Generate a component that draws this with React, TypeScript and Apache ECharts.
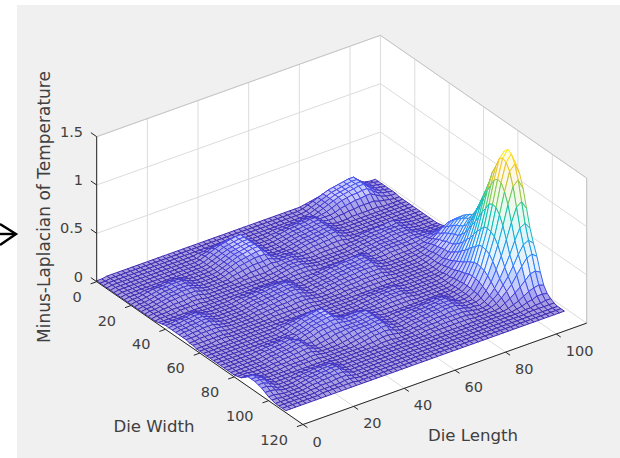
import React, { useEffect, useRef } from "react";
import * as echarts from "echarts";

const lengthTicks = [0, 20, 40, 60, 80, 100];
const widthTicks = [0, 20, 40, 60, 80, 100, 120];
const heightTicks = [0, 0.5, 1, 1.5];
const heightTickLabels = ["0", "0.5", "1", "1.5"];
const lengthMax = 112;
const widthMax = 120;
const heightMax = 1.5;
const meshStep = 2;
const xLabel = "Die Length";
const yLabel = "Die Width";
const zLabel = "Minus-Laplacian of Temperature";

// Surface heights (hundredths); one list per Die Width row, one value per 2 units of Die Length.
const w000 = [1,1,2,2,2,2,2,2,2,2,2,2,2,2,2,2,2,2,2,2,2,2,2,2,2,2,2,2,2,2,2,2,2,2,2,2,2,2,2,2,2,3,4,5,6,7,8,8,9,9,9,7,5,4,3,3];
const w002 = [1,1,2,2,2,2,2,2,2,2,2,2,2,2,2,2,2,2,2,2,2,2,2,2,2,2,2,2,2,2,2,2,2,2,2,2,2,2,2,2,3,5,7,9,11,13,14,15,16,17,17,12,8,5,4,3];
const w004 = [1,2,2,2,2,2,2,2,2,2,2,2,2,2,2,2,2,2,2,2,2,2,2,2,2,2,2,2,2,2,2,2,2,2,2,2,2,2,2,2,3,5,7,9,11,13,14,15,16,17,17,12,8,5,4,3];
const w006 = [1,2,2,2,2,2,2,2,2,2,2,2,2,2,2,2,2,2,3,3,4,4,5,5,5,5,3,2,2,2,2,2,2,2,2,2,2,2,2,2,3,5,7,9,11,13,14,15,16,17,17,12,8,5,4,3];
const w008 = [1,2,2,2,2,2,2,2,2,2,2,2,2,2,2,2,2,2,4,5,7,8,9,10,10,10,7,3,2,2,2,2,3,3,3,3,3,3,4,4,3,5,7,9,11,13,14,15,16,17,17,12,8,5,4,3];
const w010 = [1,2,2,2,2,2,2,2,2,2,2,2,2,2,2,2,2,3,5,7,9,11,12,13,14,14,9,4,2,2,2,3,3,4,4,5,5,6,6,6,4,5,6,8,10,12,13,14,14,15,15,11,7,5,4,3];
const w012 = [1,2,2,2,2,2,2,2,2,2,2,2,2,2,2,2,2,3,5,7,9,11,12,13,14,14,9,4,2,2,2,3,4,5,6,6,7,7,8,8,5,5,5,6,8,9,10,11,11,12,12,9,6,4,3,3];
const w014 = [1,2,2,2,2,2,2,2,2,2,2,2,2,2,2,2,2,3,5,7,9,11,12,13,14,14,9,4,2,2,2,3,4,5,6,6,7,7,8,8,5,4,4,5,5,6,6,7,7,7,7,5,4,3,2,2];
const w016 = [1,2,2,2,3,3,3,3,4,4,4,3,2,2,2,2,2,3,5,7,9,11,12,13,14,14,9,4,2,2,2,3,4,5,6,6,7,7,8,8,5,3,2,2,2,3,3,3,3,3,3,2,2,2,2,2];
const w018 = [1,2,2,3,4,5,5,5,6,6,6,4,3,2,2,2,2,3,5,7,9,11,12,13,14,14,9,4,2,2,2,3,4,5,6,6,7,7,8,8,5,3,2,2,2,2,2,2,2,2,2,2,2,2,2,2];
const w020 = [1,2,2,3,4,5,6,6,7,7,7,5,3,2,2,2,2,3,5,7,9,11,12,13,14,14,9,4,2,2,2,3,4,5,6,6,7,7,8,8,5,3,2,2,2,2,2,2,2,2,2,2,2,2,2,2];
const w022 = [1,2,2,3,4,5,6,6,7,7,7,5,3,2,2,2,2,3,5,7,9,10,11,12,13,13,9,4,3,3,3,3,4,5,6,6,7,7,8,8,5,3,2,2,2,2,2,2,2,2,2,2,2,2,2,2];
const w024 = [1,2,2,3,4,5,6,6,7,7,7,5,3,2,2,2,2,3,5,6,8,9,10,11,11,11,8,5,4,4,3,3,4,5,6,6,7,7,8,8,5,3,2,2,2,2,2,2,2,2,2,2,2,2,2,2];
const w026 = [1,2,2,3,4,5,6,6,7,7,7,5,3,2,2,2,2,2,4,5,6,7,8,8,8,9,7,5,5,5,4,3,3,4,5,5,6,6,7,7,4,3,2,2,2,2,2,2,2,2,2,2,2,2,2,2];
const w028 = [1,2,2,3,4,5,5,6,6,6,6,4,3,2,2,2,2,2,3,3,4,5,5,6,6,7,6,6,6,6,4,3,3,3,4,4,4,5,5,5,3,3,3,4,4,5,5,5,6,6,4,3,2,2,2,2];
const w030 = [1,2,2,3,3,4,4,4,5,5,5,3,2,2,2,2,2,2,2,3,3,3,3,3,4,5,5,6,6,6,4,3,2,2,3,3,3,3,3,3,3,3,4,4,5,5,5,5,5,6,4,3,2,2,2,2];
const w032 = [1,2,2,2,3,3,3,3,4,4,3,2,2,2,2,2,2,2,2,2,2,2,2,3,3,4,5,6,6,6,4,3,2,2,2,2,2,2,2,3,3,4,4,5,5,5,6,6,6,6,4,3,2,2,2,2];
const w034 = [1,2,2,2,2,3,3,3,3,3,2,2,2,2,2,2,2,2,2,2,2,2,2,2,3,4,5,6,6,6,4,3,2,2,2,2,2,2,2,3,3,4,4,5,5,5,6,6,6,6,4,3,2,2,2,2];
const w036 = [2,2,2,2,2,2,2,2,2,2,2,2,2,2,2,2,2,2,2,2,2,2,2,2,3,3,4,5,5,5,4,3,2,2,2,2,2,2,2,3,3,4,4,5,5,5,6,6,6,6,4,3,2,2,2,2];
const w038 = [3,3,3,3,3,4,4,3,2,2,2,2,2,2,3,3,3,3,3,4,4,4,4,3,3,3,4,4,4,4,3,2,2,2,2,2,2,2,2,3,3,4,4,5,5,5,5,6,6,6,5,4,3,3,3,3];
const w040 = [4,4,5,5,5,6,6,4,3,2,2,2,2,2,3,4,4,5,5,5,6,6,6,6,5,3,3,3,3,3,3,4,4,5,5,5,6,6,6,5,3,4,4,5,5,5,5,5,6,6,5,5,4,4,4,4];
const w042 = [4,5,5,6,6,7,7,5,3,2,2,2,2,2,3,4,5,5,6,6,7,7,8,8,6,3,2,3,3,4,4,5,6,6,7,7,7,8,8,5,3,3,4,5,5,5,5,5,6,6,6,6,6,6,6,5];
const w044 = [4,5,5,6,6,7,7,5,3,2,2,2,2,2,3,4,5,5,6,6,7,7,8,8,6,3,2,3,3,4,4,5,6,6,7,7,7,8,8,5,3,3,3,4,4,4,5,5,5,6,7,8,9,10,10,9];
const w046 = [4,5,5,6,6,7,7,5,3,2,2,2,2,2,3,4,5,5,6,6,7,7,8,8,6,3,2,3,3,4,4,5,6,6,7,7,7,8,8,5,3,2,2,3,3,3,3,4,5,6,8,10,13,15,16,15];
const w048 = [4,5,5,6,6,7,7,5,3,2,2,2,2,2,3,4,5,5,6,6,7,7,8,8,6,3,2,3,3,4,4,5,6,6,7,7,7,8,8,5,3,2,2,2,2,3,3,4,5,7,10,14,18,21,22,20];
const w050 = [4,4,5,5,6,6,6,4,3,2,2,2,2,2,3,4,4,5,5,6,6,7,7,7,5,3,2,3,3,4,4,5,5,6,6,7,7,7,7,4,3,2,2,2,2,3,3,4,6,9,12,16,21,25,26,24];
const w052 = [4,4,4,5,5,5,5,4,3,2,2,2,2,2,3,3,4,4,5,5,5,6,6,6,4,3,2,2,3,3,4,4,5,5,5,6,6,6,6,4,2,2,2,2,2,2,3,4,6,10,14,19,24,29,30,27];
const w054 = [3,3,4,4,4,4,4,3,2,2,2,2,2,2,2,3,3,4,4,4,4,5,5,5,4,3,2,2,2,3,3,4,4,4,5,5,5,5,5,3,2,2,2,2,2,2,3,5,7,11,15,21,27,32,34,31];
const w056 = [3,3,3,3,3,3,3,2,2,2,2,2,2,2,2,2,3,3,3,3,3,3,4,4,3,2,2,2,2,2,3,3,3,3,4,4,4,4,4,3,2,2,2,2,2,2,3,5,8,12,17,23,30,35,37,33];
const w058 = [2,2,2,2,3,3,3,2,2,2,2,2,2,2,2,2,2,2,2,3,3,3,3,3,2,2,2,2,2,2,2,3,3,3,3,3,3,3,3,2,2,2,2,2,2,2,3,5,8,13,18,25,32,38,40,36];
const w060 = [2,2,2,2,2,2,2,2,2,2,2,2,2,2,2,2,2,2,2,2,2,2,2,2,2,2,2,2,2,2,2,2,2,2,2,2,2,2,2,2,2,2,2,2,2,2,3,5,8,13,19,26,34,40,42,38];
const w062 = [2,2,2,2,2,2,2,2,2,2,2,2,2,2,2,3,3,4,4,4,5,5,5,3,2,2,2,2,2,2,2,3,3,3,3,3,3,3,2,2,2,2,2,2,2,2,3,6,10,15,22,30,38,46,48,43];
const w064 = [2,2,2,2,2,2,2,2,2,2,2,2,2,2,3,4,5,6,7,8,9,9,9,5,2,2,2,2,2,2,3,3,4,4,4,4,5,5,3,2,2,2,2,2,2,2,3,7,11,18,25,34,44,52,55,50];
const w066 = [2,2,2,2,2,2,2,2,2,2,2,2,2,2,3,4,6,7,9,10,11,12,12,7,3,2,2,2,2,2,3,3,4,4,5,5,5,5,3,2,2,2,2,2,2,3,4,8,13,20,29,40,51,61,64,58];
const w068 = [2,2,2,2,2,2,2,2,2,2,2,2,2,2,3,4,6,7,9,10,11,12,12,7,3,2,2,2,2,2,3,3,4,4,5,5,5,5,3,2,2,2,2,2,2,3,5,9,15,24,34,47,60,71,75,68];
const w070 = [2,2,2,2,2,2,2,2,3,3,3,3,3,4,4,4,6,7,9,10,11,12,12,8,5,4,4,4,3,3,3,3,4,4,5,5,5,5,3,2,2,2,2,2,2,3,5,10,17,27,38,53,68,81,85,77];
const w072 = [2,2,2,2,2,2,2,3,3,4,4,5,5,6,4,5,6,7,9,10,11,12,12,9,7,7,7,7,6,4,3,3,3,4,4,4,4,4,3,2,2,2,2,2,2,3,6,12,19,31,44,60,78,92,97,87];
const w074 = [2,2,2,2,2,2,2,3,4,4,5,5,6,7,5,4,6,7,9,10,10,11,11,9,8,8,8,9,9,5,3,3,3,3,3,3,3,3,2,2,2,2,2,2,2,3,7,13,22,35,50,68,88,105,110,99];
const w076 = [2,2,2,2,2,2,2,3,4,4,5,5,6,7,7,4,5,6,8,9,9,10,10,9,8,8,8,9,9,5,3,2,2,2,2,2,2,2,2,2,2,2,2,2,2,4,7,14,24,38,54,74,96,114,120,108];
const w078 = [2,2,2,2,2,2,2,3,4,4,5,5,6,7,7,4,3,5,6,7,8,8,8,8,8,8,8,9,9,5,3,2,3,3,3,3,3,3,3,4,4,4,3,2,3,4,8,16,26,42,59,81,104,124,130,117];
const w080 = [2,2,2,2,2,2,2,3,4,4,5,5,6,7,7,4,2,3,4,5,7,7,8,8,8,8,8,9,9,5,3,2,3,3,4,4,4,5,5,5,6,6,4,2,3,4,8,16,27,43,60,83,107,127,134,121];
const w082 = [3,3,3,2,2,2,2,3,3,4,4,5,5,6,6,4,2,2,3,3,5,6,7,8,8,8,8,9,9,5,3,2,3,3,4,5,5,5,6,6,7,7,4,2,3,4,8,16,26,42,59,82,106,125,132,119];
const w084 = [4,4,3,2,2,2,2,3,3,3,4,4,4,5,5,3,2,2,2,2,3,4,5,6,7,8,8,9,9,5,3,2,3,4,4,5,5,6,6,7,7,7,5,3,3,4,7,15,25,40,56,77,99,118,124,112];
const w086 = [7,7,5,3,2,2,2,2,3,3,3,3,3,4,4,3,2,2,2,2,2,3,4,5,6,7,7,8,8,4,3,2,3,4,4,5,5,6,6,7,7,7,5,3,3,3,7,13,22,35,50,68,88,105,110,99];
const w088 = [10,10,7,4,2,2,2,2,2,3,3,3,3,3,3,2,2,2,2,2,2,2,3,4,5,6,6,7,6,4,2,2,3,4,4,5,5,6,6,7,7,7,5,3,3,3,5,11,18,29,41,56,72,86,90,81];
const w090 = [10,10,8,4,2,2,2,2,2,2,2,2,2,2,2,2,2,2,2,2,2,2,2,3,3,4,5,5,4,3,2,2,3,3,4,4,5,5,5,6,6,6,5,3,3,2,4,8,14,22,32,43,56,67,70,63];
const w092 = [10,10,8,4,2,2,2,2,3,3,3,3,3,3,3,3,2,2,2,2,2,2,2,2,2,3,3,3,2,2,2,2,3,3,4,4,4,5,5,5,5,5,4,3,2,2,3,7,11,18,25,34,44,52,55,50];
const w094 = [9,9,7,4,2,2,2,3,3,4,4,5,5,5,5,3,2,2,2,2,2,2,2,2,2,2,2,2,2,2,2,2,2,3,3,3,4,4,4,4,4,4,3,2,2,2,3,5,9,14,19,27,34,41,43,39];
const w096 = [8,8,6,3,2,2,2,3,4,4,5,5,6,6,6,4,2,2,2,2,2,2,2,2,2,2,2,2,2,2,2,2,2,2,3,3,3,3,3,3,3,3,2,2,2,2,2,3,6,9,13,17,22,27,28,25];
const w098 = [6,6,5,3,2,2,2,3,4,5,5,6,6,7,7,4,2,2,2,2,2,2,2,2,2,2,2,2,2,2,2,2,2,2,2,2,2,2,2,2,2,2,2,2,2,2,2,2,3,5,7,10,13,15,16,14];
const w100 = [4,4,3,2,2,2,2,3,4,5,5,6,6,7,7,4,2,2,2,2,2,2,2,2,2,2,2,2,2,2,2,2,2,2,2,2,2,2,2,2,2,2,2,2,2,2,2,2,2,3,4,6,7,9,9,8];
const w102 = [3,3,2,2,2,2,2,3,4,4,5,5,6,6,6,4,2,2,2,2,2,2,2,2,2,2,2,2,2,2,2,2,2,2,2,2,2,2,2,2,2,2,2,2,2,2,2,2,2,2,3,3,4,4,5,5];
const w104 = [2,2,2,2,2,2,2,3,3,4,4,4,5,5,5,3,2,2,2,2,2,2,2,2,2,2,2,2,2,2,2,2,2,2,2,2,2,2,2,2,2,2,2,2,2,2,2,2,2,2,3,3,3,3,3,3];
const w106 = [2,2,2,2,2,2,2,2,3,3,3,3,3,4,4,3,2,2,2,2,2,2,2,2,2,2,2,2,2,2,2,2,2,2,2,2,2,2,2,2,2,2,2,2,2,2,2,2,2,2,2,2,2,2,2,2];
const w108 = [2,2,2,2,2,2,2,2,3,3,3,3,3,3,3,2,2,2,2,2,2,2,2,2,2,2,2,2,2,2,2,2,2,2,2,2,2,2,2,2,2,2,2,2,2,2,2,2,2,2,2,2,2,2,2,2];
const w110 = [2,2,2,2,2,2,2,2,2,2,2,2,2,2,2,2,2,2,2,2,2,2,2,2,2,2,2,2,2,2,2,2,2,2,2,2,2,2,2,2,2,2,2,2,2,2,2,2,2,2,2,2,2,2,2,2];

const surfaceRows = [w000,w002,w004,w006,w008,w010,w012,w014,w016,w018,w020,w022,w024,w026,w028,w030,w032,w034,w036,w038,w040,w042,w044,w046,w048,w050,w052,w054,w056,w058,w060,w062,w064,w066,w068,w070,w072,w074,w076,w078,w080,w082,w084,w086,w088,w090,w092,w094,w096,w098,w100,w102,w104,w106,w108,w110];

const parula = [[62,38,168],[71,72,235],[54,114,254],[38,143,236],[28,170,223],[7,190,188],[55,201,133],[140,202,80],[220,189,45],[254,207,48],[249,251,21]];
const colorTuple = (z: number) => {
  const t = Math.min(1, Math.max(0, z / 1.34)) * (parula.length - 1);
  const i = Math.min(parula.length - 2, Math.floor(t));
  const f = t - i;
  return parula[i].map((v, k) => Math.round(v + (parula[i + 1][k] - v) * f));
};
const rgb = (c: number[]) => `rgb(${c[0]},${c[1]},${c[2]})`;
// The reference mesh is so fine that its cells read as a pale tint of the line colour; on the tall hump it opens up to white.
const tint = (c: number[], keep: number) => rgb(c.map((v) => Math.round(v * keep + 255 * (1 - keep))));
const keepFor = (z: number) => (z < 0.12 ? 0.46 : z < 0.3 ? 0.3 : 0.12);

const project = (l: number, w: number, z: number): [number, number] => [
  96.7 + 1.719 * w + 2.533 * l,
  281.7 + 1.19 * w - 0.905 * l - 96.67 * z,
];

const GRID = "#dcdcdc";
const EDGE = "#c6c6c6";
const DARK = "#262626";
const TEXT = "#404040";
const FONT = "DejaVu Sans";

type Seg = { p: [number, number][]; color: string; width: number };

function polySeries(items: { p: [number, number][]; fill: string }[], z: number) {
  return {
    type: "custom", coordinateSystem: "cartesian2d", silent: true, clip: false, z,
    data: items.map((_, i) => [i, i]), encode: { x: 0, y: 1 },
    renderItem: (params: any, api: any) => {
      const it = items[params.dataIndex];
      return { type: "polygon", shape: { points: it.p.map((q) => api.coord(q)) }, style: { fill: it.fill, stroke: "none" } };
    },
  };
}

function lineSeries(items: Seg[], z: number) {
  return {
    type: "custom", coordinateSystem: "cartesian2d", silent: true, clip: false, z,
    data: items.map((_, i) => [i, i]), encode: { x: 0, y: 1 },
    renderItem: (params: any, api: any) => {
      const it = items[params.dataIndex];
      return { type: "polyline", shape: { points: it.p.map((q) => api.coord(q)) }, style: { fill: "none", stroke: it.color, lineWidth: it.width } };
    },
  };
}

function textSeries(items: { t: string; p: [number, number]; align: string; size: number; rot?: number }[], z: number) {
  return {
    type: "custom", coordinateSystem: "cartesian2d", silent: true, clip: false, z,
    data: items.map((_, i) => [i, i]), encode: { x: 0, y: 1 },
    renderItem: (params: any, api: any) => {
      const it = items[params.dataIndex];
      const c = api.coord(it.p);
      return {
        type: "text", x: c[0], y: c[1], rotation: it.rot || 0,
        style: { text: it.t, fill: TEXT, font: `${it.size}px "${FONT}"`, textAlign: it.align, textVerticalAlign: "middle" },
      };
    },
  };
}

function buildOption() {
  const walls = [
    { p: [project(0, 0, 0), project(lengthMax, 0, 0), project(lengthMax, widthMax, 0), project(0, widthMax, 0)], fill: "#ffffff" },
    { p: [project(0, 0, 0), project(lengthMax, 0, 0), project(lengthMax, 0, heightMax), project(0, 0, heightMax)], fill: "#ffffff" },
    { p: [project(lengthMax, 0, 0), project(lengthMax, widthMax, 0), project(lengthMax, widthMax, heightMax), project(lengthMax, 0, heightMax)], fill: "#ffffff" },
  ];

  const grid: Seg[] = [];
  lengthTicks.forEach((l) => {
    grid.push({ p: [project(l, widthMax, 0), project(l, 0, 0), project(l, 0, heightMax)], color: GRID, width: 1 });
  });
  widthTicks.forEach((w) => {
    grid.push({ p: [project(0, w, 0), project(lengthMax, w, 0), project(lengthMax, w, heightMax)], color: GRID, width: 1 });
  });
  heightTicks.forEach((h) => {
    grid.push({ p: [project(0, 0, h), project(lengthMax, 0, h), project(lengthMax, widthMax, h)], color: GRID, width: 1 });
  });
  grid.push({ p: [project(0, 0, heightMax), project(lengthMax, 0, heightMax), project(lengthMax, widthMax, heightMax), project(lengthMax, widthMax, 0)], color: EDGE, width: 1 });

  // Far cells first: low Die Width, high Die Length.
  const cells: { p: [number, number][]; z: number }[] = [];
  for (let r = 0; r < surfaceRows.length - 1; r++) {
    for (let c = surfaceRows[r].length - 2; c >= 0; c--) {
      const a = surfaceRows[r][c] / 100, b = surfaceRows[r][c + 1] / 100;
      const d = surfaceRows[r + 1][c] / 100, e = surfaceRows[r + 1][c + 1] / 100;
      const l0 = c * meshStep, l1 = l0 + meshStep, w0 = r * meshStep, w1 = w0 + meshStep;
      cells.push({
        p: [project(l0, w0, a), project(l1, w0, b), project(l1, w1, e), project(l0, w1, d)],
        z: (a + b + d + e) / 4,
      });
    }
  }
  const surface = {
    type: "custom", coordinateSystem: "cartesian2d", silent: true, clip: false, z: 3, progressive: 0,
    data: cells.map((_, i) => [i, i]), encode: { x: 0, y: 1 },
    renderItem: (params: any, api: any) => {
      const it = cells[params.dataIndex];
      const c = colorTuple(it.z);
      return {
        type: "polygon", shape: { points: it.p.map((q) => api.coord(q)) },
        style: { fill: tint(c, keepFor(it.z)), stroke: rgb(c), lineWidth: 1 },
      };
    },
  };

  const axes: Seg[] = [
    { p: [project(0, 0, 0), project(0, 0, heightMax)], color: DARK, width: 1 },
    { p: [project(0, 0, 0), project(0, widthMax, 0)], color: DARK, width: 1 },
    { p: [project(0, widthMax, 0), project(lengthMax, widthMax, 0)], color: DARK, width: 1 },
  ];
  heightTicks.forEach((h) => axes.push({ p: [project(0, 0, h), project(0, -3.4, h)], color: DARK, width: 1 }));
  widthTicks.forEach((w) => axes.push({ p: [project(0, w, 0), project(-2.4, w, 0)], color: DARK, width: 1 }));
  lengthTicks.forEach((l) => axes.push({ p: [project(l, widthMax, 0), project(l, widthMax + 2.6, 0)], color: DARK, width: 1 }));

  const texts: { t: string; p: [number, number]; align: string; size: number; rot?: number }[] = [];
  heightTicks.forEach((h, i) => {
    const q = project(0, 0, h);
    texts.push({ t: heightTickLabels[i], p: [83, q[1] - 5], align: "right", size: 14.5 });
  });
  widthTicks.forEach((w) => {
    const q = project(0, w, 0);
    texts.push({ t: String(w), p: [q[0] - 15, q[1] + 15], align: "right", size: 14.5 });
  });
  lengthTicks.forEach((l) => {
    const q = project(l, widthMax, 0);
    texts.push({ t: String(l), p: [q[0] + 9.5, q[1] + 17], align: "left", size: 14.5 });
  });
  texts.push({ t: xLabel, p: [473, 435], align: "center", size: 16.6 });
  texts.push({ t: yLabel, p: [154, 426], align: "center", size: 16.6 });
  texts.push({ t: zLabel, p: [44, 207], align: "center", size: 17, rot: Math.PI / 2 });

  return {
    animation: false,
    backgroundColor: "#ffffff",
    grid: { left: 0, right: 0, top: 0, bottom: 0 },
    xAxis: { type: "value", min: 0, max: 620, show: false },
    yAxis: { type: "value", min: 0, max: 458, inverse: true, show: false },
    graphic: [
      { type: "rect", z: -10, shape: { x: 17, y: 5, width: 603, height: 453 }, style: { fill: "#f0f0f0" } },
      { type: "polyline", z: -5, shape: { points: [[0, 224], [16, 234], [0, 245]] }, style: { fill: "none", stroke: "#000000", lineWidth: 2.4 } },
      { type: "line", z: -5, shape: { x1: 0, y1: 234, x2: 15, y2: 234 }, style: { stroke: "#000000", lineWidth: 2.4 } },
    ],
    series: [polySeries(walls, 1), lineSeries(grid, 2), surface, lineSeries(axes, 4), textSeries(texts, 5)],
  };
}

export default function App() {
  const ref = useRef<HTMLDivElement>(null);
  useEffect(() => {
    document.body.style.margin = "0";
    const chart = echarts.init(ref.current!, undefined, { renderer: "svg" });
    chart.setOption(buildOption() as any);
    return () => chart.dispose();
  }, []);
  return <div ref={ref} style={{ width: 620, height: 458 }} />;
}
